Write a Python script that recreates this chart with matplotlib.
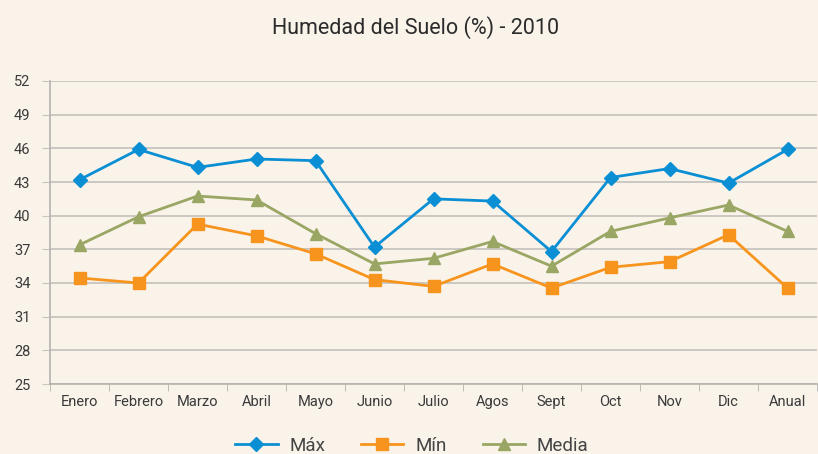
import numpy as np
import matplotlib.pyplot as plt

plt.rcParams['font.family'] = ['Roboto', 'DejaVu Sans']

meses = ['Enero', 'Febrero', 'Marzo', 'Abril', 'Mayo', 'Junio', 'Julio',
         'Agos', 'Sept', 'Oct', 'Nov', 'Dic', 'Anual']
maximo = [43.2, 45.9, 44.3, 45.05, 44.9, 37.2, 41.5, 41.3, 36.8, 43.4, 44.2, 42.9, 45.9]
minimo = [34.45, 34.0, 39.25, 38.2, 36.6, 34.3, 33.7, 35.7, 33.55, 35.4, 35.9, 38.3, 33.55]
media = [37.4, 39.9, 41.75, 41.4, 38.4, 35.7, 36.2, 37.7, 35.5, 38.6, 39.8, 40.95, 38.6]
yticks = [25, 28, 31, 34, 37, 40, 43, 46, 49, 52]

bg = '#f9f3ea'
fig = plt.figure(figsize=(8.18, 4.54), dpi=100, facecolor=bg)
ax = fig.add_axes([50/818, 1-384/454, 767/818, 303/454], facecolor=bg)

x = np.arange(len(meses))
ax.plot(x, maximo, color='#0a8fd4', lw=2, marker='D', ms=7, label='Máx')
ax.plot(x, minimo, color='#f7941d', lw=2, marker='s', ms=9, label='Mín')
ax.plot(x, media, color='#9aa663', lw=2, marker='^', ms=9, label='Media')

ax.set_xlim(-0.5, len(meses)-0.5)
ax.set_ylim(25, 52)
ax.set_yticks(yticks)
ax.yaxis.grid(True, color='#c8c5c0', lw=1.3)
ax.set_axisbelow(True)

ax.set_xticks(x)
ax.set_xticklabels(meses)
ax.set_xticks(np.arange(-0.5, len(meses), 1), minor=True)
ax.tick_params(axis='x', which='major', length=0, pad=8, labelsize=10.5, colors='#3a3a3a')
ax.tick_params(axis='x', which='minor', length=5, color='#b5b3b0')
ax.tick_params(axis='y', length=6, color='#c8c5c0', labelsize=10.5, labelcolor='#3a3a3a', pad=8)

for s in ['top', 'right']:
    ax.spines[s].set_visible(False)
for s in ['left', 'bottom']:
    ax.spines[s].set_color('#b5b3b0')
    ax.spines[s].set_linewidth(1.2)

fig.text(416/818, 1-28/454, 'Humedad del Suelo (%) - 2010', ha='center', va='center',
         fontsize=15.5, color='#2b2b2b')

fig.legend(loc='center', bbox_to_anchor=(412/818, 1-446/454), ncol=3, frameon=False,
           fontsize=13.5, handlelength=2.25, handletextpad=0.65, columnspacing=1.9,
           labelcolor='#444444')

fig.savefig('out.png', dpi=100, facecolor=bg)
